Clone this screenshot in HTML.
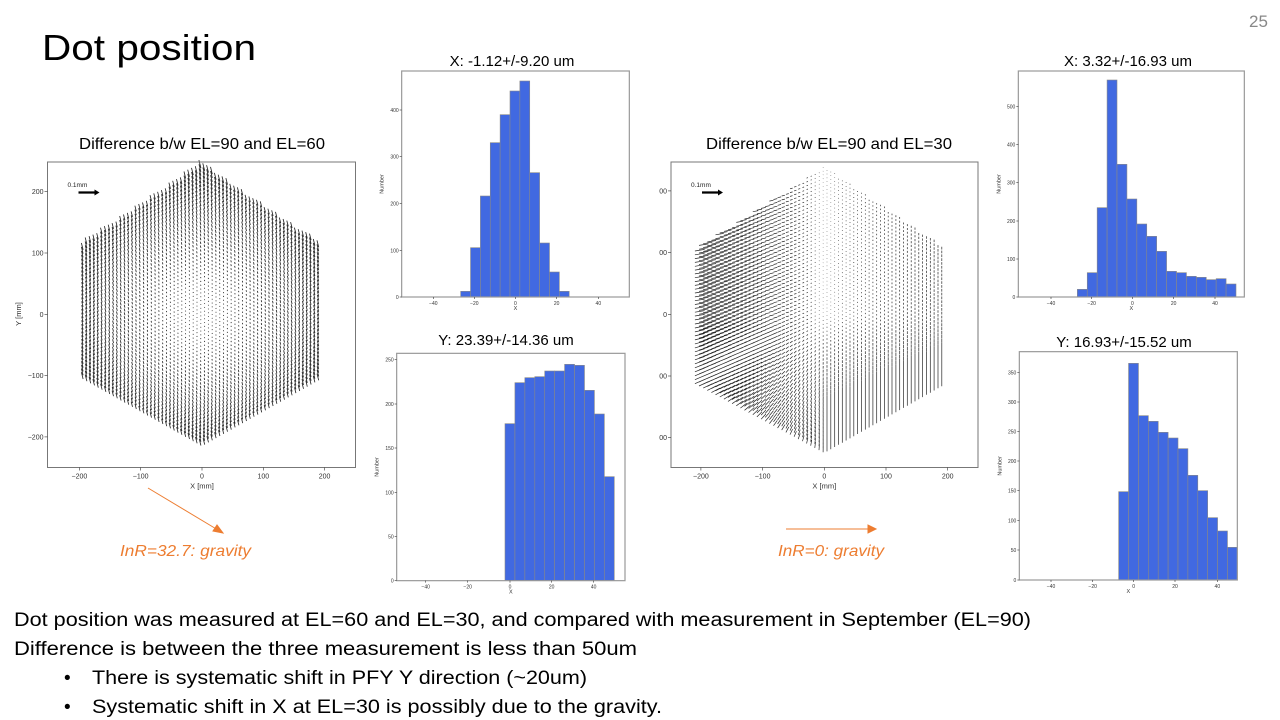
<!DOCTYPE html>
<html><head><meta charset="utf-8"><style>
html,body{margin:0;padding:0;background:#fff;width:1280px;height:720px;overflow:hidden}
svg{display:block}
text{font-family:"Liberation Sans",sans-serif}
</style></head><body>
<svg id="s" width="1280" height="720" viewBox="0 0 1280 720" xmlns="http://www.w3.org/2000/svg">
<rect width="1280" height="720" fill="#fff"/>
<text x="42" y="60" font-size="36" textLength="214" lengthAdjust="spacingAndGlyphs">Dot position</text>
<text x="1249" y="27" font-size="17" fill="#888">25</text>
<text x="202" y="149" font-size="16" text-anchor="middle" textLength="246" lengthAdjust="spacingAndGlyphs">Difference b/w EL=90 and EL=60</text>
<text x="829" y="149" font-size="16" text-anchor="middle" textLength="246" lengthAdjust="spacingAndGlyphs">Difference b/w EL=90 and EL=30</text>
<text x="512" y="66" font-size="15" text-anchor="middle">X:  -1.12+/-9.20 um</text>
<text x="1128" y="66" font-size="15" text-anchor="middle">X:  3.32+/-16.93 um</text>
<text x="506" y="345" font-size="15" text-anchor="middle">Y: 23.39+/-14.36 um</text>
<text x="1124" y="347" font-size="15" text-anchor="middle">Y: 16.93+/-15.52 um</text>
<g stroke="#ED7D31" fill="#ED7D31" stroke-width="1">
<line x1="148" y1="488" x2="218" y2="530"/><polygon points="223,533 213,531 217,525"/>
<line x1="786" y1="529" x2="870" y2="529"/><polygon points="876,529 868,525 868,533"/>
</g>
<text x="120" y="556" font-size="16" font-style="italic" fill="#ED7D31" textLength="131" lengthAdjust="spacingAndGlyphs">InR=32.7: gravity</text>
<text x="778" y="556" font-size="16" font-style="italic" fill="#ED7D31" textLength="106" lengthAdjust="spacingAndGlyphs">InR=0: gravity</text>
<g font-size="19">
<text x="14" y="626" textLength="1017" lengthAdjust="spacingAndGlyphs">Dot position was measured at EL=60 and EL=30, and compared with measurement in September (EL=90)</text>
<text x="14" y="655" textLength="623" lengthAdjust="spacingAndGlyphs">Difference is between the three measurement is less than 50um</text>
<text x="64" y="684">•</text>
<text x="92" y="684" textLength="495" lengthAdjust="spacingAndGlyphs">There is systematic shift in PFY Y direction (~20um)</text>
<text x="64" y="713">•</text>
<text x="92" y="713" textLength="570" lengthAdjust="spacingAndGlyphs">Systematic shift in X at EL=30 is possibly due to the gravity.</text>
</g>
<g id="dyn"></g>
</svg>
<script>
var NS="http://www.w3.org/2000/svg",G=document.getElementById("dyn");
function el(t,a,txt){var e=document.createElementNS(NS,t);for(var k in a)e.setAttribute(k,a[k]);if(txt!=null)e.textContent=txt;G.appendChild(e);return e;}
function hist(o,fr,xt,yt,bx0,bw,tops){
  var ox=o[0],oy=o[1],P=function(z){return z/3;};
  var L=ox+P(fr[0]),R=ox+P(fr[1]),T=oy+P(fr[2]),B=oy+P(fr[3]);
  for(var i=0;i<tops.length;i++){
    var x=ox+P(bx0+i*bw),y=oy+P(tops[i]);
    el("rect",{x:x,y:y,width:P(bw),height:B-y,fill:"#4169E1",stroke:"#888","stroke-width":0.6});
  }
  el("rect",{x:L,y:T,width:R-L,height:B-T,fill:"none",stroke:"#999","stroke-width":1.2});
  xt.forEach(function(t){var x=ox+P(t[1]);el("line",{x1:x,y1:B,x2:x,y2:B+2,stroke:"#333","stroke-width":0.6});
    el("text",{x:x,y:B+8,"font-size":5,"text-anchor":"middle",fill:"#333"},t[0]);});
  yt.forEach(function(t){var y=oy+P(t[1]);el("line",{x1:L-2,y1:y,x2:L,y2:y,stroke:"#333","stroke-width":0.6});
    el("text",{x:L-3,y:y+2,"font-size":5,"text-anchor":"end",fill:"#333"},t[0]);});
  el("text",{x:(L+R)/2,y:B+13,"font-size":5.5,"text-anchor":"middle",fill:"#333"},"X");
  var lx=L-18,ly=(T+B)/2;
  el("text",{x:lx,y:ly,"font-size":5.5,"text-anchor":"middle",fill:"#333",transform:"rotate(-90 "+lx+" "+ly+")"},"Number");
}
hist([370,60],[95,778,33,711],[["−40",190],["−20",313],["0",436],["20",560],["40",685]],
 [["0",711],["100",571],["200",431],["300",290],["400",150]],272,29.6,
 [694,563,408,248,164,93,63,338,549,636,694]);
hist([985,60],[100,778,33,711],[["−40",198],["−20",320],["0",442],["20",566],["40",690]],
 [["0",711],["100",597],["200",483],["300",368],["400",254],["500",140]],277,29.75,
 [688,638,443,60,313,417,492,529,574,634,638,649,652,659,656,672]);
hist([370,340],[80,765,40,722],[["−40",167],["−20",293],["0",420],["20",545],["40",671]],
 [["0",722],["50",590],["100",457],["150",324],["200",192],["250",59]],405,29.8,
 [251,128,113,110,93,93,73,76,151,222,410]);
hist([985,340],[103,757,35,720],[["−40",198],["−20",323],["0",446],["20",570],["40",697]],
 [["0",720],["50",630],["100",541],["150",452],["200",363],["250",275],["300",186],["350",97]],401,29.67,
 [455,70,227,244,277,294,326,406,452,533,573,622]);

function quiver(L,R,T,B,x0,sc,y0,mode,ylab){
  var d="";
  for(var xm=-194;xm<=195;xm+=6.2){
    var f=Math.abs(xm)/195;
    var top=240-130*f, bot=-215+110*f;
    for(var ym=bot;ym<=top;ym+=6.2){
      var px=x0+xm*sc,py=y0-ym*sc,r=Math.sqrt(xm*xm+ym*ym)/220,dx,dy;
      if(mode==1){var Ln=0.8+6*r*r;dx=-0.25*Ln;dy=-Ln;}
      else{
        dx=xm<0?0.05*xm:0; dy=(ym<0?-0.026*ym:0)+(xm>0?0.012*xm:0)+0.4;
        if(xm<0)dy+= -0.006*xm;
      }
      d+="M"+px.toFixed(1)+" "+py.toFixed(1)+"l"+dx.toFixed(1)+" "+dy.toFixed(1);
    }
  }
  el("path",{d:d,stroke:"#000","stroke-width":mode==1?0.85:0.7,fill:"none","stroke-opacity":0.85});
  el("rect",{x:L,y:T,width:R-L,height:B-T,fill:"none",stroke:"#777","stroke-width":1});
  [-200,-100,0,100,200].forEach(function(v){var x=x0+v*sc;
    el("line",{x1:x,y1:B,x2:x,y2:B+3,stroke:"#333","stroke-width":0.6});
    el("text",{x:x,y:B+11,"font-size":7,"text-anchor":"middle",fill:"#333"},v<0?"−"+(-v):""+v);
    var y=y0-v*sc;
    el("line",{x1:L-3,y1:y,x2:L,y2:y,stroke:"#333","stroke-width":0.6});
    var lab=v<0?"−"+(-v):""+v; if(!ylab)lab=lab.slice(-2);
    el("text",{x:L-4,y:y+2.5,"font-size":7,"text-anchor":"end",fill:"#333"},lab);
  });
  el("text",{x:x0,y:B+21,"font-size":7.5,"text-anchor":"middle",fill:"#333"},"X [mm]");
  if(ylab){el("text",{x:21,y:314,"font-size":7.5,"text-anchor":"middle",fill:"#333",transform:"rotate(-90 21 314)"},"Y [mm]");}
  el("text",{x:L+20,y:T+25,"font-size":6.5,fill:"#222"},"0.1mm");
  el("line",{x1:L+31,y1:T+30.5,x2:L+48,y2:T+30.5,stroke:"#000","stroke-width":2.2});
  el("polygon",{points:(L+52)+","+(T+30.5)+" "+(L+47)+","+(T+27.5)+" "+(L+47)+","+(T+33.5),fill:"#000"});
}
quiver(47.5,355.5,162,467.5,202,0.613,314.3,1,true);
quiver(671,978,162,467.5,824.3,0.617,314.3,2,false);
</script>
</body></html>
